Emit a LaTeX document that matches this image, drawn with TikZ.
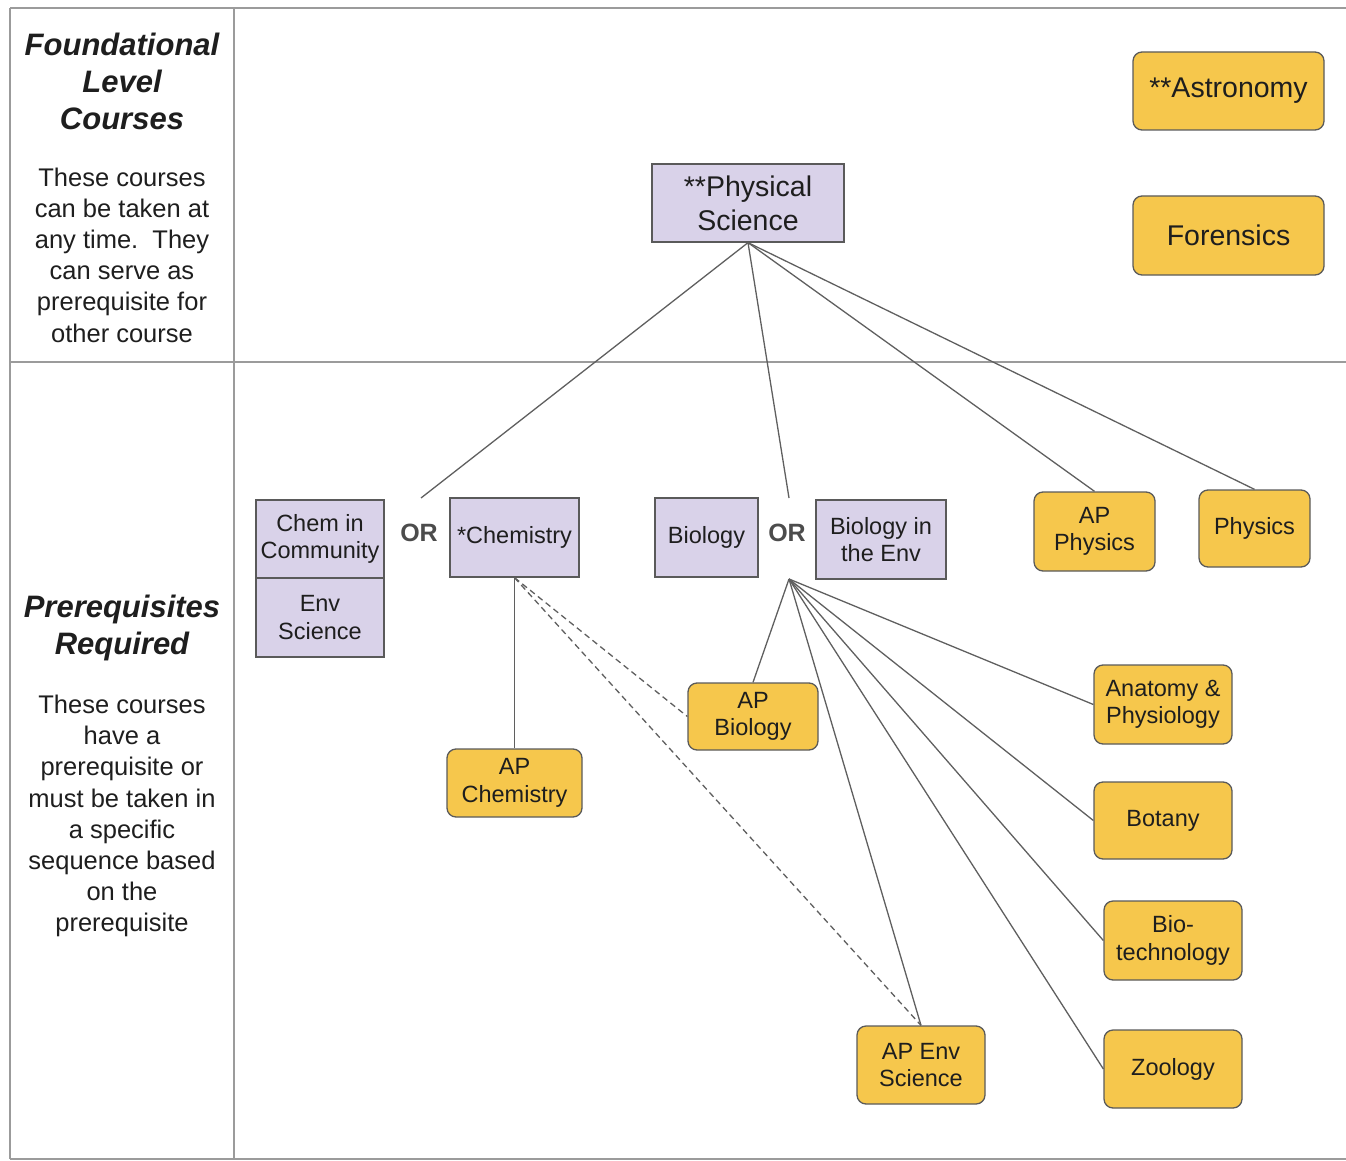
\documentclass[tikz,border=0pt]{standalone}
\usepackage{fontspec}
\setmainfont{Liberation Sans}
\definecolor{lavfill}{RGB}{217,210,233}
\definecolor{goldfill}{RGB}{246,199,76}
\definecolor{boxline}{RGB}{90,90,90}
\definecolor{linkgray}{RGB}{95,95,95}
\definecolor{gridgray}{RGB}{155,155,155}
\definecolor{inkgray}{RGB}{30,30,30}
\begin{document}
\begin{tikzpicture}[x=1pt, y=-1pt,
    lav/.style={draw=boxline, fill=lavfill, line width=1.3pt, inner sep=0pt, align=center, text=inkgray, font=\fontsize{23.5}{27.5}\selectfont},
    gold/.style={lav, fill=goldfill, rounded corners=9pt},
    big/.style={font=\fontsize{28.5}{34}\selectfont},
    orlab/.style={text=black!70, font=\bfseries\fontsize{25}{28}\selectfont},
    headlab/.style={align=center, text=inkgray, font=\bfseries\itshape\fontsize{31}{37}\selectfont},
    notelab/.style={align=center, text=inkgray, font=\fontsize{25.5}{31.2}\selectfont},
    link/.style={draw=linkgray, line width=1.3pt},
    hint/.style={link, dash pattern=on 6pt off 4pt},
    grid/.style={draw=gridgray, line width=1.3pt}]
    \useasboundingbox (0,0) rectangle (1346,1161);

    \draw[grid] (10,8) -- (1346,8);
    \draw[grid] (10,362) -- (1346,362);
    \draw[grid] (10,1159) -- (1346,1159);
    \draw[grid] (10,8) -- (10,1159);
    \draw[grid] (234,8) -- (234,1159);

    \node[headlab] (foundhead) at (122,81) {Foundational\\Level\\Courses};
    \node[notelab] (foundnote) at (122,255) {These courses\\can be taken at\\any time.\ \ They\\can serve as\\prerequisite for\\other course};
    \node[headlab] (prereqhead) at (122,628) {Prerequisites\\Required};
    \node[notelab] (prereqnote) at (122,816) {These courses\\have a\\prerequisite or\\must be taken in\\a specific\\sequence based\\on the\\prerequisite};

    \node[lav, big, minimum width=192pt, minimum height=78pt] (phys) at (748,203) {**Physical\\Science};
    \node[gold, big, minimum width=191pt, minimum height=78pt] (astro) at (1228.5,91) {**Astronomy};
    \node[gold, big, minimum width=191pt, minimum height=79pt] (foren) at (1228.5,235.5) {Forensics};

    \node[lav, minimum width=128pt, minimum height=78pt] (chemcom) at (320,539) {Chem in\\Community};
    \node[lav, minimum width=128pt, minimum height=79pt] (envsci) at (320,617.5) {Env\\Science};
    \node[orlab] (orchem) at (419,533) {OR};
    \node[lav, minimum width=129pt, minimum height=79pt] (chem) at (514.5,537.5) {*Chemistry};
    \node[lav, minimum width=103pt, minimum height=79pt] (bio) at (706.5,537.5) {Biology};
    \node[orlab] (orbio) at (787,533) {OR};
    \node[lav, minimum width=130pt, minimum height=79pt] (bioenv) at (881,539.5) {Biology in\\the Env};
    \node[gold, minimum width=121pt, minimum height=79pt] (apphys) at (1094.5,531.5) {AP\\Physics};
    \node[gold, minimum width=111pt, minimum height=77pt] (physics) at (1254.5,528.5) {Physics};

    \node[gold, minimum width=130pt, minimum height=67pt] (apbio) at (753,716.5) {AP\\Biology};
    \node[gold, minimum width=135pt, minimum height=68pt] (apchem) at (514.5,783) {AP\\Chemistry};
    \node[gold, minimum width=138pt, minimum height=79pt] (anat) at (1163,704.5) {Anatomy \&\\Physiology};
    \node[gold, minimum width=138pt, minimum height=77pt] (botany) at (1163,820.5) {Botany};
    \node[gold, minimum width=138pt, minimum height=79pt] (biotech) at (1173,940.5) {Bio-\\technology};
    \node[gold, minimum width=128pt, minimum height=78pt] (apenv) at (921,1065) {AP Env\\Science};
    \node[gold, minimum width=138pt, minimum height=78pt] (zoo) at (1173,1069) {Zoology};

    \coordinate (chemtip) at (421,498);
    \coordinate (biotip) at (789,498);
    \coordinate (biohub) at (789,579);

    \draw[link] (phys.south) -- (chemtip);
    \draw[link] (phys.south) -- (biotip);
    \draw[link] (phys.south) -- (apphys.north);
    \draw[link] (phys.south) -- (physics.north);

    \draw[link] (chem.south) -- (apchem.north);
    \draw[hint] (chem.south) -- (apbio.west);
    \draw[hint] (chem.south) -- (apenv.north);

    \draw[link] (biohub) -- (apbio.north);
    \draw[link] (biohub) -- (apenv.north);
    \draw[link] (biohub) -- (anat.west);
    \draw[link] (biohub) -- (botany.west);
    \draw[link] (biohub) -- (biotech.west);
    \draw[link] (biohub) -- (zoo.west);
\end{tikzpicture}
\end{document}
